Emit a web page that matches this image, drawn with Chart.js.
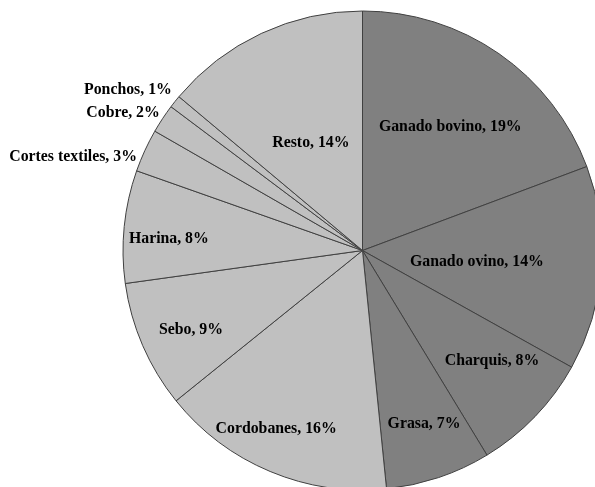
<!DOCTYPE html>
<html>
<head>
<meta charset="utf-8">
<script src="https://cdn.jsdelivr.net/npm/chart.js@4/dist/chart.umd.min.js"></script>
<style>
  html, body { margin: 0; padding: 0; background: #ffffff; overflow: hidden; width: 595px; height: 487px; }
  #wrap { position: absolute; left: 0; top: 0; width: 725px; height: 501px; }
</style>
</head>
<body>
<div id="wrap"><canvas id="c" width="725" height="501"></canvas></div>
<script>
// Data (percent of total)
const categories = ["Ganado bovino", "Ganado ovino", "Charquis", "Grasa", "Cordobanes", "Sebo", "Harina", "Cortes textiles", "Cobre", "Ponchos", "Resto"];
const shares = [19.3, 13.8, 8.2, 7.1, 15.8, 8.6, 7.6, 2.9, 1.95, 0.85, 13.9];

// Styling (not data)
const sliceColors = ["#808080", "#808080", "#808080", "#808080", "#c0c0c0", "#c0c0c0", "#c0c0c0", "#c0c0c0", "#c0c0c0", "#c0c0c0", "#c0c0c0"];
// label placement: fraction along slice angle, fraction of radius, alignment
const labelAlongArc = [0.51, 0.525, 0.38, 0.46, 0.555, 0.45, 0.42, 0.30, 0.61, 1.03, 0.49];
const labelRadius   = [0.632, 0.48, 0.71, 0.767, 0.828, 0.79, 0.81, 1.02, 1.023, 1.04, 0.5];
const labelAlign    = ["center", "center", "center", "center", "center", "center", "center", "right", "right", "right", "center"];

const total = shares.reduce((a, b) => a + b, 0);

const labelPlugin = {
  id: 'sliceLabels',
  afterDatasetsDraw(chart) {
    const ctx = chart.ctx;
    const meta = chart.getDatasetMeta(0);
    ctx.save();
    ctx.font = 'bold 15.8px "Liberation Serif", "Times New Roman", serif';
    ctx.fillStyle = '#000000';
    ctx.textBaseline = 'middle';
    meta.data.forEach((arc, i) => {
      const p = arc.getProps(['x', 'y', 'startAngle', 'endAngle', 'outerRadius'], true);
      const a = p.startAngle + labelAlongArc[i] * (p.endAngle - p.startAngle);
      const r = labelRadius[i] * p.outerRadius;
      const x = p.x + Math.cos(a) * r;
      const y = p.y + Math.sin(a) * r;
      ctx.textAlign = labelAlign[i];
      const pct = Math.round(shares[i] / total * 100);
      ctx.fillText(categories[i] + ', ' + pct + '%', x, y);
    });
    ctx.restore();
  }
};

new Chart(document.getElementById('c'), {
  type: 'pie',
  data: {
    labels: categories,
    datasets: [{
      data: shares,
      backgroundColor: sliceColors,
      borderColor: '#404040',
      borderWidth: 1
    }]
  },
  options: {
    responsive: false,
    animation: false,
    radius: 239.5,
    layout: { padding: 0 },
    plugins: {
      legend: { display: false },
      tooltip: { enabled: false }
    }
  },
  plugins: [labelPlugin]
});
</script>
</body>
</html>
